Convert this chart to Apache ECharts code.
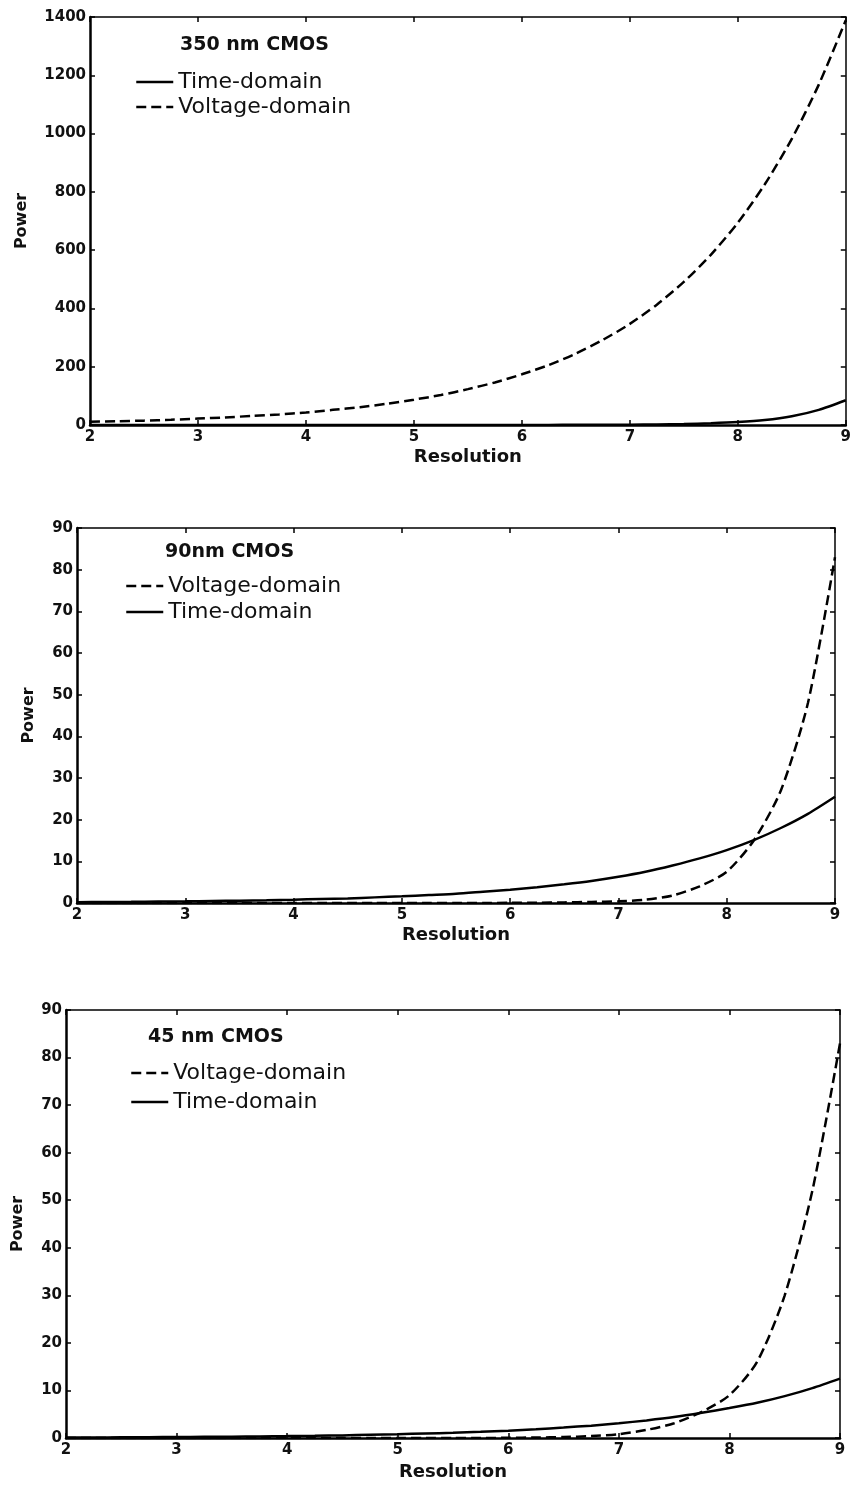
<!DOCTYPE html>
<html>
<head>
<meta charset="utf-8">
<script src="https://cdn.jsdelivr.net/npm/echarts@6/dist/echarts.min.js"></script>
<style>
  html, body { margin: 0; padding: 0; background: #fff; }
  #chart { width: 854px; height: 1486px; }
</style>
</head>
<body>
<div id="chart"></div>
<script>
// resolution values shared by all three panels
var resolution = [2, 2.25, 2.5, 2.75, 3, 3.25, 3.5, 3.75, 4, 4.25, 4.5, 4.75, 5, 5.25, 5.5, 5.75,
                  6, 6.25, 6.5, 6.75, 7, 7.25, 7.5, 7.75, 8, 8.25, 8.5, 8.75, 9];

// 350 nm CMOS
var volt350 = [11, 13, 15, 18, 22, 26, 31, 36, 43, 52, 61, 73, 87, 103, 123, 146,
               174, 206, 245, 292, 347, 413, 491, 584, 694, 826, 982, 1168, 1389];
var time350 = [0, 0, 0, 0, 0, 0, 0, 0, 0, 0, 0, 0, 0, 0, 0, 0,
               0.3, 0.4, 0.6, 0.9, 1.2, 2, 3.5, 6, 10, 17, 30, 52, 85];

// 90 nm CMOS
var volt90 = [0, 0, 0, 0, 0, 0, 0, 0, 0, 0, 0, 0, 0, 0, 0, 0,
              0.05, 0.08, 0.15, 0.25, 0.4, 0.8, 1.8, 4, 7.5, 15, 27, 48, 83];
var time90 = [0.2, 0.24, 0.28, 0.34, 0.4, 0.48, 0.56, 0.67, 0.8, 0.95, 1.1, 1.35, 1.6, 1.9, 2.2, 2.7,
              3.2, 3.8, 4.5, 5.3, 6.3, 7.5, 9, 10.7, 12.7, 15.1, 18, 21.4, 25.5];

// 45 nm CMOS
var volt45 = [0, 0, 0, 0, 0, 0, 0, 0, 0, 0, 0, 0, 0, 0, 0, 0,
              0.05, 0.1, 0.2, 0.4, 0.8, 1.7, 3.1, 5.5, 9, 16, 30, 52, 83];
var time45 = [0.1, 0.12, 0.14, 0.17, 0.2, 0.24, 0.28, 0.34, 0.4, 0.47, 0.55, 0.67, 0.8, 0.95, 1.1, 1.3,
              1.55, 1.85, 2.2, 2.6, 3.1, 3.7, 4.4, 5.3, 6.3, 7.4, 8.8, 10.5, 12.5];

var yTicks = [[0, 1400, 200], [0, 90, 10], [0, 90, 10]];
var panelTitles = ['350 nm CMOS', '90nm CMOS', '45 nm CMOS'];

var grids = [
    { left: 90, top: 17, width: 757, height: 408 },
    { left: 77, top: 528, width: 758, height: 375 },
    { left: 66, top: 1010, width: 774, height: 428 }
];
var titlePos = [[180, 36], [165, 543], [148, 1028]];
var legendPos = [[135, 71], [125, 575], [130, 1062]];
var legendGap = [3, 4, 7];
var legendOrder = [['Time-domain', 'Voltage-domain'], ['Voltage-domain', 'Time-domain'], ['Voltage-domain', 'Time-domain']];
var powerGap = [60, 40, 40];
var resGap = [23, 23, 25];

var FONT = 'DejaVu Sans';

function pairs(ys) {
    return resolution.map(function(x, i) { return [x, ys[i]]; });
}

var xAxes = [], yAxes = [], titles = [], legends = [], series = [];

grids.forEach(function(g, i) {
    // bottom axis
    xAxes.push({
        gridIndex: i, type: 'value', min: 2, max: 9, interval: 1,
        name: 'Resolution', nameLocation: 'middle', nameGap: resGap[i],
        nameTextStyle: { fontFamily: FONT, fontWeight: 'bold', fontSize: 18, color: '#111' },
        axisLine: { lineStyle: { color: '#000', width: 2.5 } },
        axisTick: { inside: true, length: 5, lineStyle: { color: '#000', width: 1.5 } },
        axisLabel: { fontFamily: FONT, fontWeight: 'bold', fontSize: 15, color: '#111', margin: 5 },
        splitLine: { show: false }
    });
    // top box edge
    xAxes.push({
        gridIndex: i, type: 'value', position: 'top', min: 2, max: 9, interval: 1,
        axisLine: { onZero: false, lineStyle: { color: '#000', width: 1.5 } },
        axisTick: { inside: true, length: 5, lineStyle: { color: '#000', width: 1.5 } },
        axisLabel: { show: false }, splitLine: { show: false }
    });
    var t = yTicks[i];
    yAxes.push({
        gridIndex: i, type: 'value', min: t[0], max: t[1], interval: t[2],
        name: 'Power', nameLocation: 'middle', nameGap: powerGap[i], nameRotate: 90,
        nameTextStyle: { fontFamily: FONT, fontWeight: 'bold', fontSize: 16, color: '#111' },
        axisLine: { show: true, lineStyle: { color: '#000', width: 2.5 } },
        axisTick: { show: true, inside: true, length: 5, lineStyle: { color: '#000', width: 1.5 } },
        axisLabel: {
            fontFamily: FONT, fontWeight: 'bold', fontSize: 15, color: '#111', margin: 4,
            formatter: function(v) { return String(v); }
        },
        splitLine: { show: false }
    });
    // right box edge
    yAxes.push({
        gridIndex: i, type: 'value', position: 'right', min: t[0], max: t[1], interval: t[2],
        axisLine: { show: true, onZero: false, lineStyle: { color: '#000', width: 1.5 } },
        axisTick: { show: true, inside: true, length: 5, lineStyle: { color: '#000', width: 1.5 } },
        axisLabel: { show: false }, splitLine: { show: false }
    });
    titles.push({
        text: panelTitles[i], left: titlePos[i][0], top: titlePos[i][1],
        textStyle: { fontFamily: FONT, fontWeight: 'bold', fontSize: 19, color: '#111' },
        padding: 0
    });
    legends.push({
        data: legendOrder[i], orient: 'vertical', left: legendPos[i][0], top: legendPos[i][1],
        itemWidth: 37, itemHeight: 12, itemGap: legendGap[i], padding: 0, selectedMode: false,
        itemStyle: { opacity: 0 },
        lineStyle: { width: 2.5 },
        textStyle: { fontFamily: FONT, fontSize: 22, color: '#111' }
    });
});

var panelData = [[time350, volt350], [time90, volt90], [time45, volt45]];
panelData.forEach(function(d, i) {
    series.push({
        name: 'Time-domain', type: 'line', xAxisIndex: i * 2, yAxisIndex: i * 2,
        data: pairs(d[0]), symbol: 'none', smooth: 0.25,
        lineStyle: { color: '#000', width: 2.5, type: 'solid' }, itemStyle: { color: '#000' }
    });
    series.push({
        name: 'Voltage-domain', type: 'line', xAxisIndex: i * 2, yAxisIndex: i * 2,
        data: pairs(d[1]), symbol: 'none', smooth: 0.25,
        lineStyle: { color: '#000', width: 2.5, type: [10, 5] }, itemStyle: { color: '#000' }
    });
});

var chart = echarts.init(document.getElementById('chart'));
chart.setOption({
    animation: false,
    backgroundColor: '#fff',
    title: titles,
    legend: legends,
    grid: grids,
    xAxis: xAxes,
    yAxis: yAxes,
    series: series
});
</script>
</body>
</html>
